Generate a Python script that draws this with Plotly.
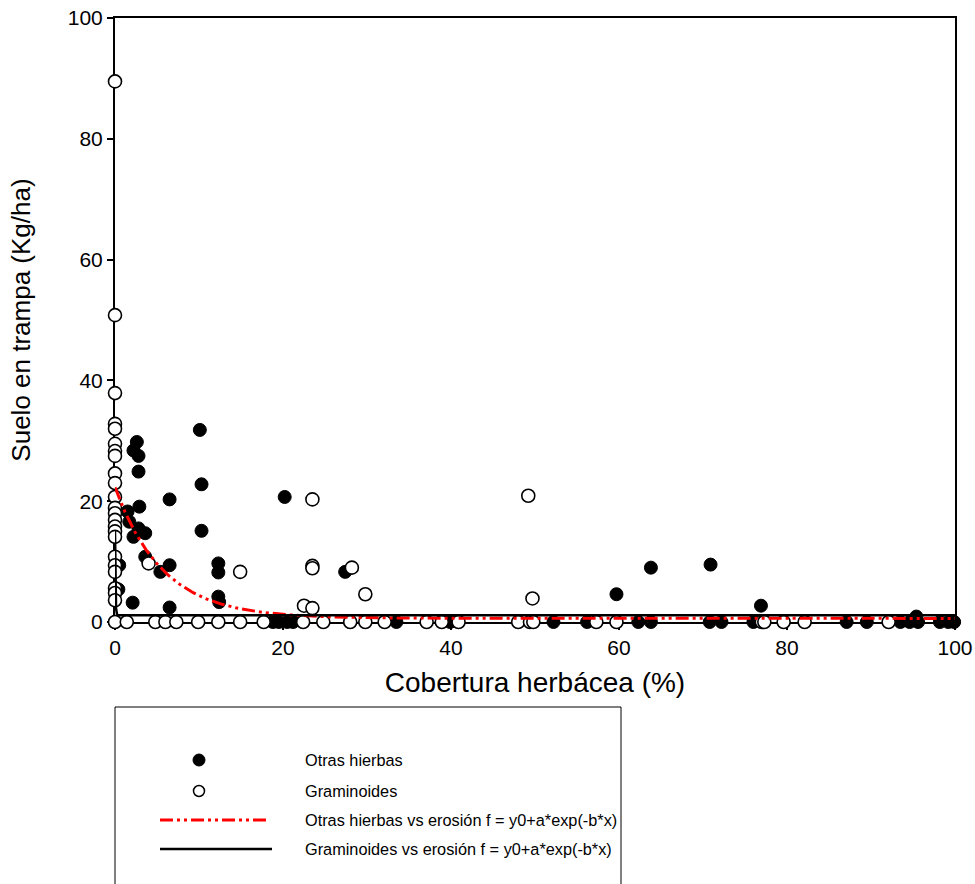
import numpy as np
import plotly.graph_objects as go

# ---------------- data ----------------
# Otras hierbas (filled circles)
otras_x = [10.1, 2.6, 2.2, 2.8, 2.8, 10.3, 6.5, 20.2, 2.9, 1.5, 1.7, 2.8, 3.6, 2.2, 10.3,
           3.6, 0.5, 6.5, 5.4, 12.3, 12.3, 12.3, 12.4, 0.4, 2.1, 6.5, 27.4, 59.7, 63.8,
           70.9, 76.9, 95.4,
           0.0, 18.8, 19.5, 20.5, 21.2, 28.0, 33.5, 39.9, 52.2, 56.2, 62.3, 63.8, 70.8,
           72.2, 76.0, 87.1, 89.5, 93.5, 94.6, 95.6, 98.2, 99.2, 99.9]
otras_y = [31.8, 29.8, 28.4, 27.5, 24.9, 22.8, 20.3, 20.7, 19.1, 18.3, 16.6, 15.5, 14.7, 14.1, 15.1,
           10.8, 9.4, 9.4, 8.3, 9.7, 8.2, 4.2, 3.3, 5.4, 3.2, 2.4, 8.3, 4.6, 9.0,
           9.5, 2.7, 0.9,
           0.0, 0.0, 0.0, 0.0, 0.0, 0.0, 0.0, 0.0, 0.0, 0.0, 0.0, 0.0, 0.0,
           0.0, 0.0, 0.0, 0.0, 0.0, 0.0, 0.0, 0.0, 0.0, 0.0]

# Graminoides (open circles)
gram_x = [0.0] * 24 + [4.0, 14.9, 23.5, 23.5, 23.5, 28.2, 29.8, 22.5, 23.5, 49.2, 49.7,
                       1.4, 4.8, 6.0, 7.3, 9.9, 12.3, 14.9, 17.7, 22.4, 24.8, 28.0, 29.8,
                       32.1, 37.1, 38.9, 40.9, 48.0, 49.4, 49.8, 57.3, 59.7, 77.0, 77.3,
                       79.6, 82.1, 92.1]
gram_y = [89.5, 50.8, 37.9, 32.8, 32.0, 29.5, 28.3, 27.5, 24.6, 23.0, 20.7, 18.9, 18.0,
          16.9, 15.8, 15.0, 14.1, 10.8, 9.4, 8.3, 5.6, 4.8, 3.6, 0.0,
          9.7, 8.3, 20.3, 9.3, 8.9, 9.0, 4.6, 2.7, 2.3, 20.9, 3.9,
          0.0, 0.0, 0.0, 0.0, 0.0, 0.0, 0.0, 0.0, 0.0, 0.0, 0.0, 0.0,
          0.0, 0.0, 0.0, 0.0, 0.0, 0.0, 0.0, 0.0, 0.0, 0.0, 0.0,
          0.0, 0.0, 0.0]

# fitted curves f = y0 + a*exp(-b*x)
otras_fit = {"y0": 0.6, "a": 21.7, "b": 0.175}
gram_fit = {"y0": 1.1, "a": 14.0, "b": 20.0}

x_ticks = [0, 20, 40, 60, 80, 100]
y_ticks = [0, 20, 40, 60, 80, 100]

legend_labels = ["Otras hierbas", "Graminoides",
                 "Otras hierbas vs erosión f = y0+a*exp(-b*x)",
                 "Graminoides vs erosión f = y0+a*exp(-b*x)"]

FONT = "Liberation Sans, Arial, sans-serif"
RED_DASH = "13px,4px,3px,4px,3px,4px"

# ---------------- figure ----------------
W, H = 975, 884
L, R, T, B = 115, 20, 18, 262
PW, PH = W - L - R, H - T - B

xf = np.linspace(0, 100, 801)

fig = go.Figure()
fig.add_trace(go.Scatter(x=otras_x, y=otras_y, mode="markers", name=legend_labels[0],
                         marker=dict(symbol="circle", size=13, color="black",
                                     line=dict(color="black", width=1)),
                         cliponaxis=False, showlegend=False))
fig.add_trace(go.Scatter(x=gram_x, y=gram_y, mode="markers", name=legend_labels[1],
                         marker=dict(symbol="circle", size=13, color="white",
                                     line=dict(color="black", width=1.6)),
                         cliponaxis=False, showlegend=False))
fig.add_trace(go.Scatter(x=xf, y=otras_fit["y0"] + otras_fit["a"] * np.exp(-otras_fit["b"] * xf),
                         mode="lines", name=legend_labels[2],
                         line=dict(color="red", width=3, dash=RED_DASH), showlegend=False))
fig.add_trace(go.Scatter(x=xf, y=gram_fit["y0"] + gram_fit["a"] * np.exp(-gram_fit["b"] * xf),
                         mode="lines", name=legend_labels[3],
                         line=dict(color="black", width=2.5), showlegend=False))


# screen pixel -> paper coordinates
def px2x(px):
    return (px - L) / PW


def py2y(py):
    return (T + PH - py) / PH


shapes = []
annotations = []
# legend box
shapes.append(dict(type="rect", xref="paper", yref="paper",
                   x0=px2x(115), x1=px2x(621), y0=py2y(900), y1=py2y(707),
                   line=dict(color="black", width=1), fillcolor="rgba(0,0,0,0)"))
rows = [760, 791, 820, 849]
# marker symbols
shapes.append(dict(type="circle", xref="paper", yref="paper", xsizemode="pixel", ysizemode="pixel",
                   xanchor=px2x(199), yanchor=py2y(rows[0]), x0=-6, x1=6, y0=-6, y1=6,
                   fillcolor="black", line=dict(color="black", width=1)))
shapes.append(dict(type="circle", xref="paper", yref="paper", xsizemode="pixel", ysizemode="pixel",
                   xanchor=px2x(199), yanchor=py2y(rows[1]), x0=-5.5, x1=5.5, y0=-5.5, y1=5.5,
                   fillcolor="white", line=dict(color="black", width=1.5)))
shapes.append(dict(type="line", xref="paper", yref="paper",
                   x0=px2x(160), x1=px2x(266), y0=py2y(rows[2]), y1=py2y(rows[2]),
                   line=dict(color="red", width=3, dash=RED_DASH)))
shapes.append(dict(type="line", xref="paper", yref="paper",
                   x0=px2x(160), x1=px2x(272), y0=py2y(rows[3]), y1=py2y(rows[3]),
                   line=dict(color="black", width=2.5)))
for lab, r in zip(legend_labels, rows):
    annotations.append(dict(text=lab, xref="paper", yref="paper", x=px2x(303), y=py2y(r),
                            xanchor="left", yanchor="middle", showarrow=False,
                            font=dict(family=FONT, size=16.3, color="black")))

axis_common = dict(range=[0, 100], showgrid=False, zeroline=False, showline=True,
                   linecolor="black", linewidth=2, mirror=True, ticks="outside",
                   ticklen=6, tickwidth=1.5, tickcolor="black", layer="below traces",
                   tickfont=dict(family=FONT, size=21, color="black"))

fig.update_layout(
    width=W, height=H, autosize=False,
    margin=dict(l=L, r=R, t=T, b=B),
    paper_bgcolor="white", plot_bgcolor="white",
    font=dict(family=FONT, color="black"),
    xaxis=dict(**axis_common, tickvals=x_ticks,
               title=dict(text="Cobertura herbácea (%)",
                          font=dict(family=FONT, size=28, color="black"), standoff=14)),
    yaxis=dict(**axis_common, tickvals=y_ticks,
               title=dict(text="Suelo en trampa (Kg/ha)",
                          font=dict(family=FONT, size=26, color="black"), standoff=30)),
    shapes=shapes, annotations=annotations, showlegend=False,
)
fig.update_xaxes(automargin=False)
fig.update_yaxes(automargin=False)

# remove the default 8px page margin so the 975x884 figure fills the window exactly
fig.write_html("out.html", config={"displayModeBar": False},
               post_script="document.body.style.margin='0';document.body.style.overflow='hidden';")
